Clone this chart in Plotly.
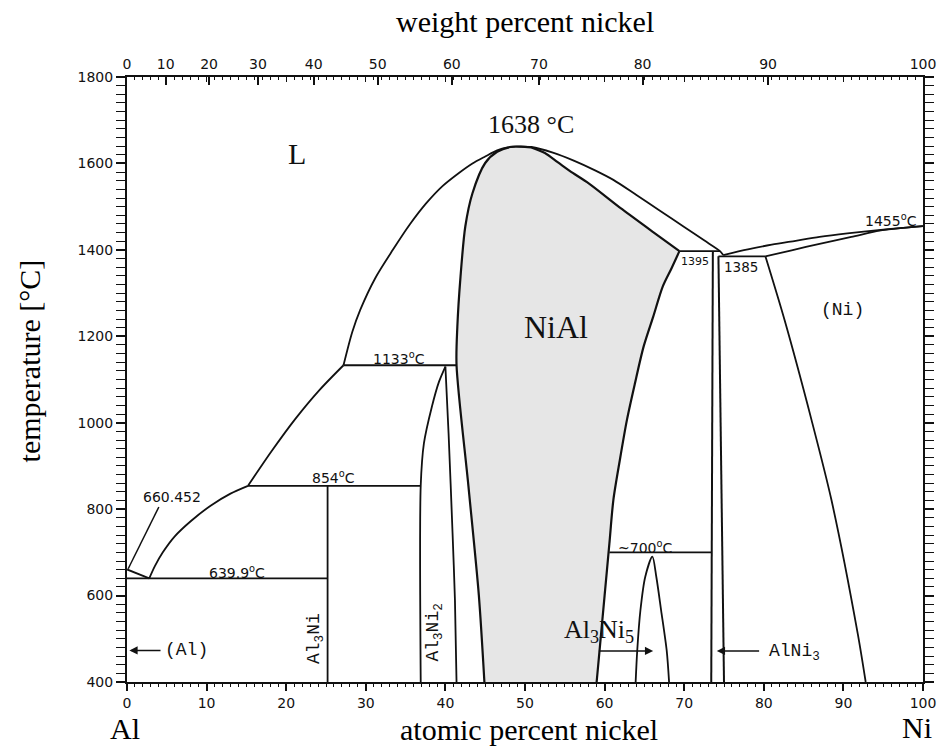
import plotly.graph_objects as go

# ---------------------------------------------------------------
# Al-Ni binary phase diagram (temperature vs. atomic percent Ni)
# ---------------------------------------------------------------

M_NI = 58.6934
M_AL = 26.9815

# weight-percent labels of the upper axis
weight_ticks = [0, 10, 20, 30, 40, 50, 60, 70, 80, 90, 100]

# Al-rich liquidus: Al melting point -> eutectic
liq_al_x = [0.0, 2.8]
liq_al_T = [660.452, 639.9]

# liquidus from the eutectic up to the NiAl maximum
liq_left_x = [2.8, 3.5, 4.5, 6.0, 8.0, 10.5, 13.0, 15.2]
liq_left_T = [639.9, 668, 700, 737, 772, 808, 836, 854]
liq_mid_x = [15.2, 18.2, 21.2, 24.2, 27.2]
liq_mid_T = [854, 935, 1010, 1076, 1133]
liq_up_x = [27.2, 28.3, 29.3, 31.2, 33.4, 35.5, 37.6, 39.6, 41.7, 43.4, 45.0, 46.5, 47.8, 48.8]
liq_up_T = [1133, 1210, 1261, 1335, 1400, 1458, 1508, 1547, 1578, 1600, 1616, 1630, 1637, 1639]

# liquidus from the NiAl maximum down to the eutectic near AlNi3
liq_right_x = [48.8, 50.8, 53.5, 56.2, 58.8, 61.1, 64.0, 67.0, 70.0, 72.5, 74.5, 74.9]
liq_right_T = [1639, 1638, 1625, 1606, 1584, 1562, 1527, 1490, 1453, 1422, 1397, 1388]

# NiAl single-phase field
nial_left_x = [44.9, 44.2, 42.9, 41.4, 41.5, 41.9, 42.5, 43.4, 45.0, 46.5, 48.3, 49.5, 50.8]
nial_left_T = [400, 601, 852, 1133, 1222, 1338, 1454, 1531, 1601, 1627, 1638.5, 1639, 1637]
nial_top_x = [50.8, 52.5, 54.1, 56.0, 58.0, 62.2, 66.1, 69.4]
nial_top_T = [1637, 1624, 1603, 1578, 1554, 1494, 1441, 1397]
nial_right_x = [69.4, 68.4, 67.3, 66.1, 64.9, 63.8, 62.8, 61.9, 61.1, 60.6, 60.0, 59.5, 59.0]
nial_right_T = [1397, 1357, 1315, 1245, 1176, 1090, 1006, 912, 821, 720, 600, 500, 400]

# Ni-rich liquidus, solidus and solvus
ni_liq_x = [74.9, 78.0, 81.0, 84.0, 87.0, 90.5, 94.7, 97.5, 100.0]
ni_liq_T = [1388, 1401, 1412, 1421, 1430, 1438, 1446, 1451, 1455]
ni_sol_x = [80.2, 83.5, 87.0, 91.0, 94.7, 97.5, 100.0]
ni_sol_T = [1385, 1399, 1414, 1430, 1445, 1451, 1455]
ni_solvus_x = [80.2, 82.6, 86.0, 88.5, 91.8, 92.8]
ni_solvus_T = [1385, 1238, 1006, 821, 512, 400]

# intermetallic phase boundaries
al3ni_x = [25.2, 25.2]
al3ni_T = [400, 854]
al3ni2_left_x = [36.9, 36.9, 37.3, 38.3, 39.2, 40.0]
al3ni2_left_T = [400, 854, 952, 1037, 1095, 1130]
al3ni2_right_x = [40.0, 40.4, 40.9, 41.2, 41.4]
al3ni2_right_T = [1130, 975, 744, 589, 400]
alni3_left_x = [73.6, 73.4]
alni3_left_T = [1397, 400]
alni3_right_x = [74.3, 75.0]
alni3_right_T = [1385, 400]
al3ni5_x = [63.9, 64.1, 64.5, 65.1, 66.0, 66.5, 67.1, 67.8, 68.1]
al3ni5_T = [400, 473, 566, 643, 690, 643, 566, 473, 400]

# invariant reactions (isotherms): x-start, x-end, temperature
isotherms = [
    (0.0, 25.2, 639.9),
    (15.2, 36.9, 854),
    (27.2, 41.4, 1133),
    (60.6, 73.4, 700),
    (69.4, 74.5, 1397),
    (74.3, 80.2, 1385),
]

# leader line of the Al melting point label
leader_x = [4.0, 0.15]
leader_T = [805, 662]

LINE = "#111111"
FILL = "#e6e6e6"
SCAN = "DejaVu Sans"
MONO = "Liberation Mono"
SERIF = "Liberation Serif"


def wt_to_at(w):
    if w >= 100:
        return 100.0
    n_ni = w / M_NI
    n_al = (100.0 - w) / M_AL
    return 100.0 * n_ni / (n_ni + n_al)


fig = go.Figure()

# shaded NiAl field
fig.add_trace(go.Scatter(
    x=nial_left_x + nial_top_x[1:] + nial_right_x[1:],
    y=nial_left_T + nial_top_T[1:] + nial_right_T[1:],
    mode="lines", fill="toself", fillcolor=FILL,
    line=dict(width=0, color=FILL), hoverinfo="skip"))


def curve(x, y, width=1.8, shape="spline"):
    fig.add_trace(go.Scatter(
        x=x, y=y, mode="lines", hoverinfo="skip",
        line=dict(color=LINE, width=width, shape=shape, smoothing=0.8)))


curve(liq_al_x, liq_al_T, shape="linear")
curve(liq_left_x, liq_left_T)
curve(liq_mid_x, liq_mid_T)
curve(liq_up_x, liq_up_T)
curve(liq_right_x, liq_right_T)
curve(nial_left_x, nial_left_T, width=2.2)
curve(nial_top_x, nial_top_T, width=2.2)
curve(nial_right_x, nial_right_T, width=2.2)
curve(ni_liq_x, ni_liq_T)
curve(ni_sol_x, ni_sol_T)
curve(ni_solvus_x, ni_solvus_T)
curve(al3ni_x, al3ni_T, shape="linear")
curve(al3ni2_left_x, al3ni2_left_T)
curve(al3ni2_right_x, al3ni2_right_T)
curve(alni3_left_x, alni3_left_T, width=2.0, shape="linear")
curve(alni3_right_x, alni3_right_T, width=2.0, shape="linear")
curve(al3ni5_x, al3ni5_T)
curve(leader_x, leader_T, width=1.5, shape="linear")
for x0, x1, t in isotherms:
    curve([x0, x1], [t, t], shape="linear")

# anchor traces for the two upper axes
for ax in ("x2", "x3"):
    fig.add_trace(go.Scatter(x=[50], y=[1000], xaxis=ax, mode="markers",
                             marker=dict(opacity=0), hoverinfo="skip"))

ann = []


def label(x, y, text, family, size, angle=0):
    ann.append(dict(x=x, y=y, xref="x", yref="y", text=text, showarrow=False,
                    textangle=angle, xanchor="center", yanchor="middle",
                    font=dict(family=family, size=size, color=LINE)))


def arrow(x_tail, x_head, y):
    ann.append(dict(x=x_head, y=y, ax=x_tail, ay=y, xref="x", yref="y",
                    axref="x", ayref="y", text="", showarrow=True,
                    arrowhead=2, arrowsize=1.1, arrowwidth=1.5,
                    arrowcolor=LINE))


def title(x, y, text, angle=0):
    ann.append(dict(x=x, y=y, xref="paper", yref="paper", text=text,
                    showarrow=False, textangle=angle,
                    xanchor="center", yanchor="middle",
                    font=dict(family=SERIF, size=30, color="black")))


label(21.4, 1622, "L", SERIF, 30)
label(50.7, 1689, "1638 °C", SERIF, 26)
label(53.9, 1222, "NiAl", SERIF, 32)
label(89.9, 1261, "(Ni)", MONO, 18)
label(96.0, 1469, "1455<sup>o</sup>C", SCAN, 14)
label(71.4, 1373, "1395", SCAN, 11)
label(77.1, 1361, "1385", SCAN, 13.5)
label(34.2, 1150, "1133<sup>o</sup>C", SCAN, 14)
label(26.0, 875, "854<sup>o</sup>C", SCAN, 14)
label(5.65, 828, "660.452", SCAN, 14)
label(13.8, 655, "639.9<sup>o</sup>C", SCAN, 14)
label(65.1, 713, "~700<sup>o</sup>C", SCAN, 14)
label(23.7, 501, "Al<sub>3</sub>Ni", MONO, 18, angle=-90)
label(38.6, 515, "Al<sub>3</sub>Ni<sub>2</sub>", MONO, 18, angle=-90)
label(7.5, 473, "(Al)", MONO, 18)
label(59.3, 517, "Al<sub>3</sub>Ni<sub>5</sub>", SERIF, 26)
label(83.9, 468, "AlNi<sub>3</sub>", MONO, 18)
arrow(4.4, 0.3, 473)
arrow(59.1, 66.1, 472)
arrow(79.6, 74.1, 472)

# axis titles and element names
title(0.5, 1.091, "weight percent nickel")
title(-0.123, 0.53, "temperature [°C]", angle=-90)
title(0.505, -0.079, "atomic percent nickel")
title(-0.003, -0.077, "Al")
title(0.992, -0.075, "Ni")

tick_font = dict(family=SCAN, size=14, color=LINE)
common = dict(range=[0, 100], showgrid=False, zeroline=False, showline=True,
              linecolor=LINE, linewidth=2, tickcolor=LINE)

fig.update_layout(
    width=948, height=756,
    margin=dict(l=127, r=15, t=77, b=74),
    paper_bgcolor="white", plot_bgcolor="white",
    showlegend=False,
    annotations=ann,
    xaxis=dict(**common, tick0=0, dtick=10, ticks="outside", ticklen=7,
               tickwidth=1.5, tickfont=tick_font,
               minor=dict(dtick=1, ticks="outside", ticklen=3, tickwidth=1,
                          tickcolor=LINE)),
    xaxis2=dict(**common, overlaying="x", side="top",
                tickvals=[wt_to_at(w) for w in weight_ticks],
                ticktext=[str(w) for w in weight_ticks],
                ticks="inside", ticklen=8, tickwidth=1.5, tickfont=tick_font),
    xaxis3=dict(**common, overlaying="x", side="top", tick0=0, dtick=10,
                ticks="inside", ticklen=5, tickwidth=1.2, showticklabels=False,
                minor=dict(dtick=1, ticks="inside", ticklen=3, tickwidth=1,
                           tickcolor=LINE)),
    yaxis=dict(range=[400, 1800], tick0=400, dtick=200, showgrid=False,
               zeroline=False, showline=True, linecolor=LINE, linewidth=2,
               mirror="allticks", ticks="outside", ticklen=9, tickwidth=1.5,
               tickcolor=LINE, tickfont=tick_font,
               minor=dict(dtick=20, ticks="outside", ticklen=4, tickwidth=1,
                          tickcolor=LINE)),
)

fig.write_html("out.html")
